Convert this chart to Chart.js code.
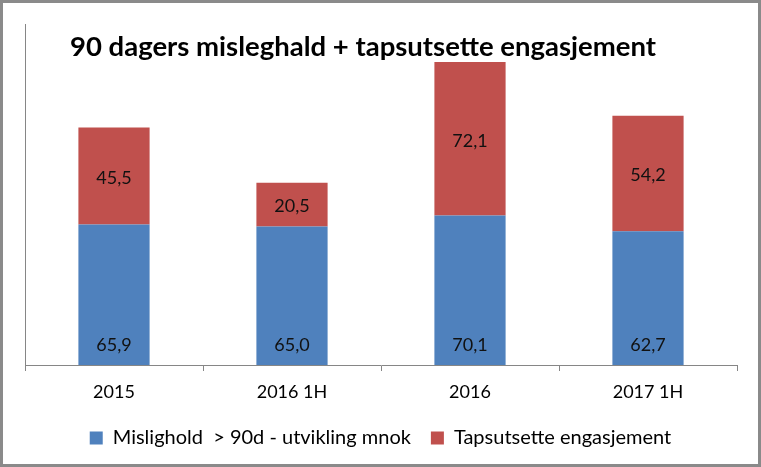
<!DOCTYPE html>
<html><head><meta charset="utf-8">
<script src="https://cdn.jsdelivr.net/npm/chart.js@4"></script>
<style>html,body{margin:0;padding:0;background:#fff}#wrap{width:761px;height:467px;position:relative}</style>
</head><body><div id="wrap"><canvas id="c" width="761" height="467"></canvas></div>
<script>
const categories = ["2015", "2016 1H", "2016", "2017 1H"];
const mislighold = [65.9, 65.0, 70.1, 62.7];
const tapsutsette = [45.5, 20.5, 72.1, 54.2];
const seriesNames = ["Mislighold  > 90d - utvikling mnok", "Tapsutsette engasjement"];
const titleText = "90 dagers misleghald + tapsutsette engasjement";
const FONT = "Lato, 'Open Sans', sans-serif";

const fmt = v => v.toFixed(1).replace('.', ',');

const framePlugin = {
  id: 'frame',
  afterDraw(chart) {
    const ctx = chart.ctx;
    ctx.save();
    ctx.strokeStyle = '#8a8a8a';
    ctx.lineWidth = 3;
    ctx.strokeRect(1.5, 1.5, chart.width - 3, chart.height - 3);
    ctx.fillStyle = '#000';
    ctx.font = "bold 27.5px " + FONT;
    ctx.textBaseline = 'alphabetic';
    ctx.textAlign = 'left';
    ctx.fillText(titleText, 70, 56);
    ctx.restore();
  }
};

const labelPlugin = {
  id: 'vals',
  afterDatasetsDraw(chart) {
    const ctx = chart.ctx;
    ctx.save();
    ctx.font = "18px " + FONT;
    ctx.fillStyle = '#111';
    ctx.textAlign = 'center';
    ctx.textBaseline = 'middle';
    chart.data.datasets.forEach((ds, di) => {
      const meta = chart.getDatasetMeta(di);
      meta.data.forEach((bar, i) => {
        const v = ds.data[i];
        let y;
        if (di === 0) y = bar.base - 20;
        else y = (bar.y + bar.base) / 2 + 2;
        ctx.fillText(fmt(v), bar.x, y);
      });
    });
    ctx.restore();
  }
};

new Chart(document.getElementById('c'), {
  type: 'bar',
  data: {
    labels: categories,
    datasets: [
      { label: seriesNames[0], data: mislighold, backgroundColor: '#4F81BD' },
      { label: seriesNames[1], data: tapsutsette, backgroundColor: '#C0504D' }
    ]
  },
  options: {
    responsive: false,
    animation: false,
    devicePixelRatio: 1,
    layout: { padding: { left: 24, right: 24, top: 24, bottom: 9 } },
    datasets: { bar: { categoryPercentage: 1.0, barPercentage: 0.4 } },
    scales: {
      x: {
        stacked: true,
        grid: { display: true, drawOnChartArea: false, offset: true, tickLength: 6, color: '#868686' },
        border: { display: true, color: '#868686', width: 1 },
        ticks: { font: { family: FONT, size: 18 }, color: '#000', padding: 10 },
        afterFit(s) { s.height = 43; }
      },
      y: {
        stacked: true,
        min: 0, max: 160,
        grid: { display: false },
        border: { display: true, color: '#868686', width: 1 },
        ticks: { display: false },
        afterFit(s) { s.width = 1; }
      }
    },
    plugins: {
      legend: {
        position: 'bottom',
        labels: { font: { family: FONT, size: 20 }, color: '#000', boxWidth: 13, boxHeight: 13, padding: 20 }
      },
      tooltip: { enabled: false }
    }
  },
  plugins: [framePlugin, labelPlugin]
});
</script></body></html>
